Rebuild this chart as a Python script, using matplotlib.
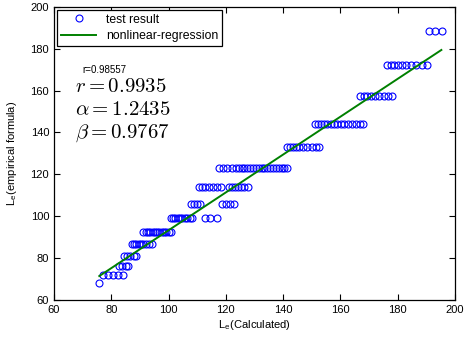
import numpy as np
import matplotlib
matplotlib.use("Agg")
import matplotlib.pyplot as plt

# empirical L_e levels (y) and the calculated L_e values (x) sitting on each level
levels = [68, 72, 76, 81, 86.5, 92.5, 99, 106, 114, 123, 133, 144, 157.5, 172, 188.5]
calc_at_level = [
    [75.8],
    [77.2, 78.8, 80.5, 82.2, 84.0],
    [82.6, 83.8, 85.0, 86.0],
    [84.5, 85.6, 86.6, 87.8, 88.8],
    [87.2, 88.0, 88.8, 89.6, 90.4, 91.2, 92.0, 93.0, 94.2],
    [91.2, 92.0, 92.8, 93.6, 94.4, 95.2, 96.0, 96.8, 97.6, 98.4, 99.2, 100.0, 101.0],
    [100.8, 101.6, 102.4, 103.2, 104.0, 104.8, 105.6, 106.4, 107.4, 108.2, 112.8, 114.6, 116.8],
    [107.8, 108.8, 109.8, 111.0, 118.8, 120.0, 121.6, 123.0],
    [110.5, 111.6, 112.8, 114.0, 115.5, 117.0, 118.2, 121.2, 122.2, 123.2, 124.2, 125.2, 126.4, 127.8],
    [117.5, 119.0, 120.5, 122.0, 123.5, 124.5, 125.5, 126.5, 127.5, 128.5, 129.5, 130.5, 131.5,
     132.5, 133.5, 134.5, 135.5, 136.5, 137.5, 138.5, 139.5, 140.5, 141.4],
    [141.5, 142.5, 143.5, 144.5, 145.5, 147.0, 148.5, 150.0, 151.5, 152.6],
    [151.2, 152.2, 153.2, 154.2, 155.4, 156.6, 157.8, 159.0, 160.2, 161.4, 162.6, 164.0, 165.4, 166.8, 168.0],
    [166.8, 168.2, 169.4, 170.6, 172.0, 173.6, 175.2, 176.8, 178.0],
    [176.2, 177.6, 178.8, 180.0, 181.4, 183.0, 184.6, 186.4, 188.4, 190.4],
    [191.0, 193.2, 195.6],
]

# regression line
fit_x = [75.8, 195.3]
fit_y = [71.4, 179.4]

xs = np.concatenate([np.array(c) for c in calc_at_level])
ys = np.concatenate([np.full(len(c), lv) for c, lv in zip(calc_at_level, levels)])

plt.rcParams['mathtext.fontset'] = 'cm'
plt.rcParams['font.family'] = 'Liberation Sans'

fig = plt.figure(figsize=(4.66, 3.42), dpi=100)
ax = fig.add_axes([0.116, 0.123, 0.860, 0.857])

ax.plot(xs, ys, 'o', markerfacecolor='none', markeredgecolor='blue',
        markersize=5.0, markeredgewidth=0.8, label='test result')
ax.plot(fit_x, fit_y, '-', color=(0, 0.5, 0), linewidth=1.4, label='nonlinear-regression')

ax.set_xlim(60, 200)
ax.set_ylim(60, 200)
ax.set_xticks(np.arange(60, 201, 20))
ax.set_yticks(np.arange(60, 201, 20))
ax.tick_params(direction='in', length=4, width=0.8, top=True, right=True, labelsize=8)
for s in ax.spines.values():
    s.set_linewidth(0.9)

ax.set_xlabel('L$_\\mathregular{e}$(Calculated)', fontsize=8, labelpad=2)
ax.set_ylabel('L$_\\mathregular{e}$(empirical formula)', fontsize=8, labelpad=8)

leg = ax.legend(loc='upper left', fontsize=8.8, numpoints=1, handlelength=2.9,
                fancybox=False, framealpha=1, edgecolor='black',
                borderpad=0.3, labelspacing=0.35, borderaxespad=0.25)
leg.get_frame().set_linewidth(0.9)

ax.text(70, 170, 'r=0.98557', fontsize=7, va='center')
ax.text(67.3, 162, '$r=0.9935$', fontsize=15, va='center')
ax.text(67.3, 151, '$\\alpha=1.2435$', fontsize=15, va='center')
ax.text(67.3, 139.7, '$\\beta=0.9767$', fontsize=15, va='center')

fig.savefig('out.png', dpi=100)
